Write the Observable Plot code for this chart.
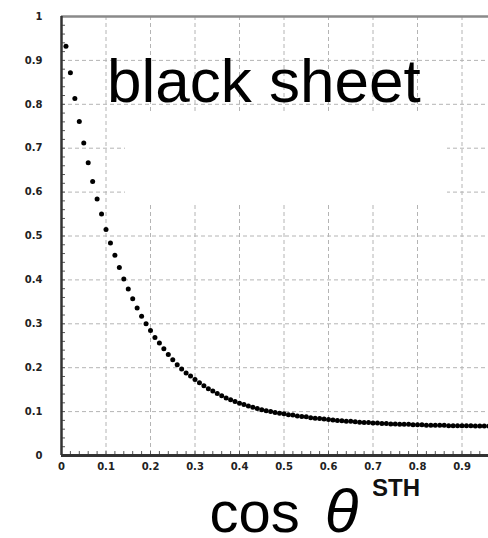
<!DOCTYPE html>
<html>
<head>
<meta charset="utf-8">
<script src="https://cdn.jsdelivr.net/npm/d3@7"></script>
<script src="https://cdn.jsdelivr.net/npm/@observablehq/plot@0.6"></script>
<style>
  html, body { margin: 0; padding: 0; background: #fff; overflow: hidden; }
  #wrap { position: relative; width: 488px; height: 538px; overflow: hidden; background: #fff; }
  #chart { position: absolute; left: 0; top: 0; width: 520px; }
  #chart svg { max-width: none !important; width: 520px; height: 480px; }
  .patch { position: absolute; background: #fff; }
  .big { position: absolute; font-family: "Liberation Sans", Arial, sans-serif; color: #000; line-height: 1; white-space: nowrap; }
  #axisName { position: absolute; left: 373px; top: 470px; width: 47px; height: 32px; overflow: hidden; }
  #axisName div { position: absolute; right: 0; top: 6.4px; font-family: "Liberation Sans", Arial, sans-serif; font-weight: bold; font-size: 24px; line-height: 1; color: #111; white-space: nowrap; }
</style>
</head>
<body>
<div id="wrap">
  <div id="chart"></div>
  <div class="patch" style="left:125px;top:112px;width:322px;height:93px"></div>
  <div class="big" style="left:107px;top:49.5px;font-size:62px">black sheet</div>
  <div id="axisName"><div>COSTH</div></div>
  <div class="big" style="left:209.5px;top:480px;font-size:58px">cos<span style="font-style:italic;margin-left:25px;font-size:62px">θ</span></div>
</div>
<script>
// cos(theta) bins and the measured fraction in each bin
const cosTheta = [
  0.01, 0.02, 0.03, 0.04, 0.05, 0.06, 0.07, 0.08, 0.09, 0.10,
  0.11, 0.12, 0.13, 0.14, 0.15, 0.16, 0.17, 0.18, 0.19, 0.20,
  0.21, 0.22, 0.23, 0.24, 0.25, 0.26, 0.27, 0.28, 0.29, 0.30,
  0.31, 0.32, 0.33, 0.34, 0.35, 0.36, 0.37, 0.38, 0.39, 0.40,
  0.41, 0.42, 0.43, 0.44, 0.45, 0.46, 0.47, 0.48, 0.49, 0.50,
  0.51, 0.52, 0.53, 0.54, 0.55, 0.56, 0.57, 0.58, 0.59, 0.60,
  0.61, 0.62, 0.63, 0.64, 0.65, 0.66, 0.67, 0.68, 0.69, 0.70,
  0.71, 0.72, 0.73, 0.74, 0.75, 0.76, 0.77, 0.78, 0.79, 0.80,
  0.81, 0.82, 0.83, 0.84, 0.85, 0.86, 0.87, 0.88, 0.89, 0.90,
  0.91, 0.92, 0.93, 0.94, 0.95, 0.96, 0.97, 0.98, 0.99, 1.00
];
const values = [
  0.932, 0.872, 0.813, 0.761, 0.712, 0.667, 0.624, 0.584, 0.550, 0.515,
  0.484, 0.456, 0.428, 0.402, 0.379, 0.357, 0.336, 0.317, 0.300, 0.285,
  0.269, 0.256, 0.243, 0.230, 0.218, 0.207, 0.197, 0.188, 0.181, 0.173,
  0.166, 0.159, 0.152, 0.147, 0.141, 0.136, 0.131, 0.127, 0.123, 0.119,
  0.116, 0.113, 0.110, 0.107, 0.104, 0.102, 0.100, 0.098, 0.096, 0.095,
  0.093, 0.092, 0.090, 0.089, 0.088, 0.086, 0.085, 0.084, 0.083, 0.082,
  0.081, 0.080, 0.079, 0.078, 0.078, 0.077, 0.076, 0.075, 0.075, 0.074,
  0.074, 0.073, 0.073, 0.072, 0.072, 0.071, 0.071, 0.071, 0.070, 0.070,
  0.070, 0.069, 0.069, 0.069, 0.069, 0.069, 0.068, 0.068, 0.068, 0.068,
  0.068, 0.068, 0.067, 0.067, 0.067, 0.067, 0.067, 0.067, 0.067, 0.067
];

// axis ticks and their labels
const xTicks = [0, 0.1, 0.2, 0.3, 0.4, 0.5, 0.6, 0.7, 0.8, 0.9];
const xTickLabels = ["0", "0.1", "0.2", "0.3", "0.4", "0.5", "0.6", "0.7", "0.8", "0.9"];
const yTicks = [0, 0.1, 0.2, 0.3, 0.4, 0.5, 0.6, 0.7, 0.8, 0.9, 1];
const yTickLabels = ["0", "0.1", "0.2", "0.3", "0.4", "0.5", "0.6", "0.7", "0.8", "0.9", "1"];
const gridTicks = [0.1, 0.2, 0.3, 0.4, 0.5, 0.6, 0.7, 0.8, 0.9];
const minorTicks = d3.range(0, 51).map(i => i / 50);

const points = cosTheta.map((c, i) => ({cos: c, value: values[i]}));

const tickFont = {fontFamily: "DejaVu Sans", fontSize: 10, fontWeight: "bold", fill: "#222"};
const gridStyle = {stroke: "#b4b4b4", strokeOpacity: 1, strokeDasharray: "4,3"};

const chart = Plot.plot({
  width: 520,
  height: 480,
  marginLeft: 61,
  marginRight: 14,
  marginTop: 16,
  marginBottom: 25,
  style: {background: "#fff", overflow: "visible", fontFamily: "DejaVu Sans", maxWidth: "none"},
  x: {domain: [0, 1]},
  y: {domain: [0, 1]},
  marks: [
    Plot.gridX(gridTicks, gridStyle),
    Plot.gridY(gridTicks, gridStyle),
    Plot.ruleX(minorTicks, {x: d => d, y1: 0, y2: 0.009, stroke: "#555"}),
    Plot.ruleY(minorTicks, {y: d => d, x1: 0, x2: 0.009, stroke: "#555"}),
    Plot.axisX({ticks: xTicks, tickFormat: d => xTickLabels[xTicks.indexOf(d)], tickSize: 0, tickPadding: 7, label: null, ...tickFont}),
    Plot.axisY({ticks: yTicks, tickFormat: d => yTickLabels[yTicks.indexOf(d)], tickSize: 0, tickPadding: 19, label: null, ...tickFont}),
    Plot.ruleY([1], {stroke: "#8a8a8a", strokeWidth: 2.5}),
    Plot.ruleX([0], {stroke: "#333", strokeWidth: 2.5}),
    Plot.ruleY([0], {stroke: "#333", strokeWidth: 3}),
    Plot.dot(points, {x: "cos", y: "value", r: 2.5, fill: "#000", stroke: "none"})
  ]
});

document.getElementById("chart").appendChild(chart);
</script>
</body>
</html>
